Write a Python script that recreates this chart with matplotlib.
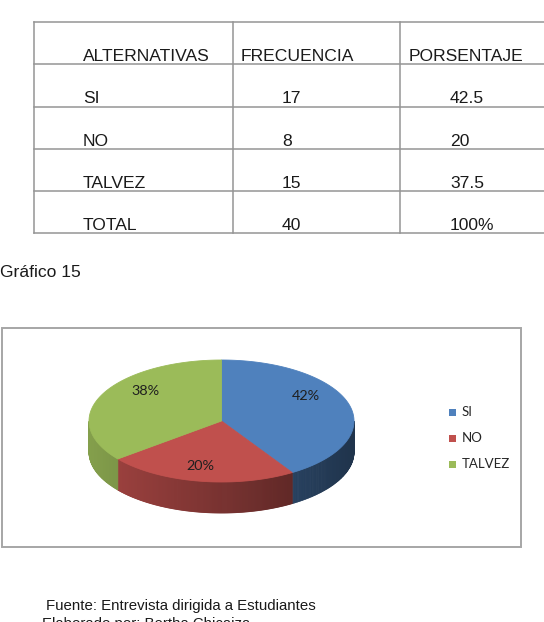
import numpy as np
import matplotlib.pyplot as plt
from matplotlib.patches import Polygon, Rectangle
from matplotlib.colors import to_rgb

# data from the table
alternativas = ["SI", "NO", "TALVEZ"]
frecuencia = [17, 8, 15]
porcentaje = [42.5, 20, 37.5]
encabezado = ["ALTERNATIVAS", "FRECUENCIA", "PORSENTAJE"]
total_frec = "40"
total_pct = "100%"
colores = ["#4F81BD", "#C0504D", "#9BBB59"]

W, H = 544, 622
fig = plt.figure(figsize=(W / 100, H / 100), dpi=100)
ax = fig.add_axes([0, 0, 1, 1])
ax.set_xlim(0, W)
ax.set_ylim(H, 0)
ax.axis("off")

txt = "#1a1a1a"
line_c = "#959595"

# ---- table ----
col_x = [33.5, 233, 400, 560]
row_y = [22.3, 64.3, 106.7, 149, 191.3, 233]
for y in row_y:
    ax.plot([col_x[0], W], [y, y], color=line_c, lw=1.1)
for x in col_x[:3]:
    ax.plot([x, x], [row_y[0], row_y[-1]], color=line_c, lw=1.1)

filas = [encabezado]
for a, f, p in zip(alternativas, frecuencia, porcentaje):
    filas.append([a, str(f), f"{p:g}"])
filas.append(["TOTAL", total_frec, total_pct])

text_x = [[83, 241, 408.7]] + [[83, 282, 450]] * (len(filas) - 1)
tfont = dict(family="Liberation Sans", fontsize=12.6, color=txt, va="baseline")
for i, fila in enumerate(filas):
    base = row_y[i + 1] - 3.5
    for j, s in enumerate(fila):
        ax.text(text_x[i][j], base, s, **tfont)

ax.text(0, 277, "Gráfico 15", **tfont)

# ---- chart frame ----
ax.add_patch(Rectangle((1.5, 328), 519.5, 219, fill=False, ec="#a6a6a6", lw=1.4))

# ---- 3D pie ----
cx, cy, rx, ry, depth = 221.5, 421, 132.5, 61, 31
fracs = np.array(frecuencia) / sum(frecuencia)
edges = 90 - 360 * np.concatenate([[0], np.cumsum(fracs)])


def warp(t):
    # front slightly enlarged, like the perspective of the original
    return t - 6.5 * np.sin(np.radians(2 * t))


def pt(t, dy=0.0):
    r = np.radians(warp(t))
    return cx + rx * np.cos(r), cy - ry * np.sin(r) + dy


def shade(x):
    return 0.85 - 0.45 * (x - (cx - rx)) / (2 * rx)


# sides first
for i in range(len(fracs)):
    base = np.array(to_rgb(colores[i]))
    ts = np.linspace(edges[i], edges[i + 1], 200)
    for a, b in zip(ts[:-1], ts[1:]):
        if np.sin(np.radians(warp((a + b) / 2))) >= 0:
            continue
        x1, y1 = pt(a)
        x2, y2 = pt(b)
        col = np.clip(base * shade((x1 + x2) / 2), 0, 1)
        quad = [(x1, y1), (x2, y2), (x2, y2 + depth), (x1, y1 + depth)]
        ax.add_patch(Polygon(quad, closed=True, fc=col, ec=col, lw=0.6))

# tops
for i in range(len(fracs)):
    ts = np.linspace(edges[i], edges[i + 1], 200)
    xs, ys = pt(ts)
    verts = [(cx, cy)] + list(zip(xs, ys))
    ax.add_patch(Polygon(verts, closed=True, fc=colores[i], ec=colores[i], lw=0.6))

# percentage labels
for i in range(len(fracs)):
    mid = (edges[i] + edges[i + 1]) / 2
    phi = np.radians(mid + 20 * np.cos(np.radians(mid)))
    lx = cx + 0.76 * rx * np.cos(phi)
    ly = cy - 0.76 * ry * np.sin(phi)
    ax.text(lx, ly, f"{round(porcentaje[i])}%", family="Lato", fontsize=10.4,
            color="#1f1f1f", ha="center", va="center")

# legend
leg_y = [412, 438, 464]
for i, name in enumerate(alternativas):
    ax.add_patch(Rectangle((449, leg_y[i] - 3.5), 7, 7, fc=colores[i], ec="none"))
    ax.text(462, leg_y[i], name, family="Lato", fontsize=9.5, color="#262626",
            va="center", ha="left")

# footer
ffont = dict(family="Liberation Sans", fontsize=10.8, color=txt, va="baseline")
ax.text(46, 610, "Fuente: Entrevista dirigida a Estudiantes", **ffont)
ax.text(42, 628, "Elaborado por: Bertha Chicaiza", **ffont)

fig.savefig("out.png", dpi=100)
